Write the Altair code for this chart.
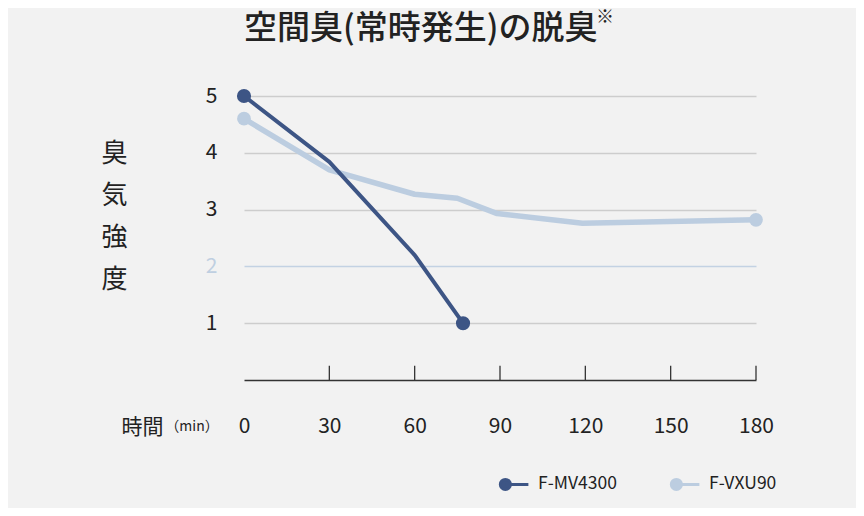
import altair as alt
import pandas as pd

# ---- data ----
series_names = ["F-MV4300", "F-VXU90"]
mv_time = [0, 30, 60, 77]
mv_level = [5.0, 3.84, 2.2, 1.0]
vxu_time = [0, 30, 60, 75, 89, 119, 180]
vxu_level = [4.6, 3.70, 3.27, 3.20, 2.93, 2.76, 2.82]
x_ticks = [0, 30, 60, 90, 120, 150, 180]
y_ticks = [1, 2, 3, 4, 5]
tick_marks = [30, 60, 90, 120, 150, 180]
series_colors = ["#3d5585", "#bccde0"]
title_text = ["空間臭(常時発生)の脱臭"]
note_text = ["※"]
unit_text = ["（min）"]

FONT = "Noto Sans CJK JP"
TEXT = "#222222"

rows = []
for name, ts, vs in [(series_names[0], mv_time, mv_level),
                     (series_names[1], vxu_time, vxu_level)]:
    for i, (t, v) in enumerate(zip(ts, vs)):
        rows.append({"series": name, "t": t, "v": v,
                     "end": i == 0 or i == len(ts) - 1, "order": i})
df = pd.DataFrame(rows)

ticks_df = pd.DataFrame({"t": tick_marks, "y0": [0] * len(tick_marks),
                         "y1": [0.25] * len(tick_marks)})

legend_symbol = ("M -0.95 0 A 0.35 0.35 0 1 0 -0.25 0 A 0.35 0.35 0 1 0 -0.95 0 Z "
                 "M -0.6 0 L 1 0")

x_scale = alt.Scale(domain=[0, 180], nice=False, zero=False)
y_scale = alt.Scale(domain=[0, 5], nice=False)
color_scale = alt.Scale(domain=series_names, range=series_colors)

x_axis = alt.Axis(values=x_ticks, grid=False, ticks=False, domainColor="#333333",
                  domainWidth=1.3, labelFontSize=21, labelColor=TEXT, labelPadding=35,
                  labelFont=FONT, labelFlush=False, labelOverlap=False, format="d",
                  title="時間", titleFont=FONT, titleFontSize=21,
                  titleFontWeight="normal", titleColor=TEXT, titleX=-102, titleY=47,
                  titleAlign="center", titleBaseline="middle")
y_axis = alt.Axis(values=y_ticks, domain=False, ticks=False, grid=True, format="d",
                  gridColor={"condition": {"test": "datum.value === 2", "value": "#c3d2e3"},
                             "value": "#cdcdcd"},
                  gridWidth=1.6,
                  labelColor={"condition": {"test": "datum.value === 2", "value": "#bfcfe1"},
                              "value": TEXT},
                  labelFontSize=21, labelFont=FONT, labelPadding=27,
                  labelFlush=False, labelOverlap=False,
                  title=["臭", "気", "強", "度"], titleAngle=0, titleFont=FONT,
                  titleFontSize=26, titleFontWeight="normal", titleColor=TEXT,
                  titleX=-130, titleY=44, titleLineHeight=42, titleAlign="center",
                  titleBaseline="top")

legend = alt.Legend(orient="none", legendX=254, legendY=372, direction="horizontal",
                    title=None, symbolType=legend_symbol, symbolSize=828,
                    symbolStrokeWidth=3, labelFontSize=17.5, labelFont=FONT,
                    labelColor=TEXT, columnPadding=48, labelOffset=8)

color_enc = alt.Color("series:N", scale=color_scale, legend=legend)

base = alt.Chart(df)

line_light = base.mark_line(strokeWidth=5.5, strokeJoin="round").encode(
    x=alt.X("t:Q", scale=x_scale, axis=x_axis),
    y=alt.Y("v:Q", scale=y_scale, axis=y_axis),
    color=color_enc, order="order:Q",
).transform_filter(alt.datum.series == series_names[1])

line_dark = base.mark_line(strokeWidth=4, strokeJoin="round").encode(
    x="t:Q", y="v:Q", color=color_enc, order="order:Q",
).transform_filter(alt.datum.series == series_names[0])

pts_light = base.mark_point(filled=True, size=190, opacity=1).encode(
    x="t:Q", y="v:Q", color=color_enc,
).transform_filter((alt.datum.series == series_names[1]) & alt.datum.end)

pts_dark = base.mark_point(filled=True, size=200, opacity=1).encode(
    x="t:Q", y="v:Q", color=color_enc,
).transform_filter((alt.datum.series == series_names[0]) & alt.datum.end)

tick_rules = alt.Chart(ticks_df).mark_rule(color="#333333", strokeWidth=1.3).encode(
    x="t:Q", y="y0:Q", y2="y1:Q")

title = alt.Chart(pd.DataFrame({"s": title_text})).mark_text(
    font=FONT, fontSize=33, fontWeight=500, color=TEXT, align="left",
    baseline="alphabetic").encode(
    x=alt.value(0), y=alt.value(-57), text="s:N")

note = alt.Chart(pd.DataFrame({"s": note_text})).mark_text(
    font=FONT, fontSize=18, color=TEXT, align="left", baseline="middle").encode(
    x=alt.value(352), y=alt.value(-78), text="s:N")

unit = alt.Chart(pd.DataFrame({"s": unit_text})).mark_text(
    font=FONT, fontSize=14, color=TEXT, align="center", baseline="middle").encode(
    x=alt.value(-52), y=alt.value(331), text="s:N")

chart = alt.layer(tick_rules, line_light, line_dark, pts_light, pts_dark,
                  title, note, unit).properties(
    width=512, height=284,
    autosize=alt.AutoSizeParams(type="none"),
    padding={"left": 236, "top": 88, "right": 100, "bottom": 128},
    background="#f2f2f2",
).configure_view(stroke=None)

chart.save("out.html", embed_options={"renderer": "svg", "actions": False})
